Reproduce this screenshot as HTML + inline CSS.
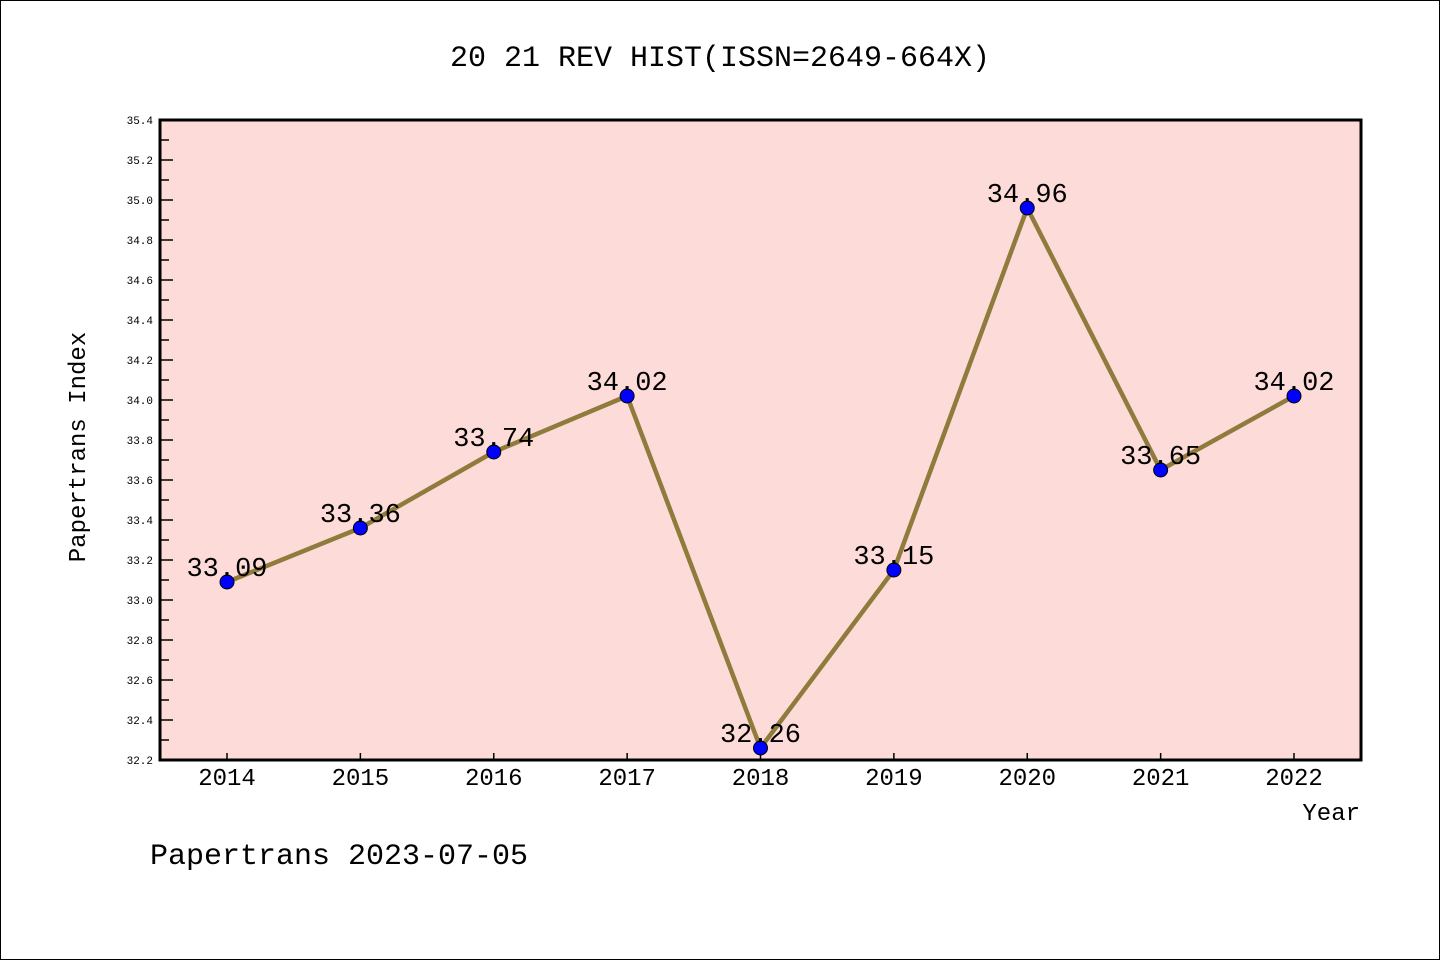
<!DOCTYPE html>
<html><head><meta charset="utf-8"><style>
body{margin:0;background:#fff}
svg{display:block}
text{font-family:"Liberation Mono","DejaVu Sans Mono",monospace}
</style></head><body>
<svg id="chart" width="1440" height="960" xmlns="http://www.w3.org/2000/svg">
<rect x="0.5" y="0.5" width="1439" height="959" fill="#fff" stroke="#000" stroke-width="1"/>
<text x="720" y="66" text-anchor="middle" font-size="30">20 21 REV HIST(ISSN=2649-664X)</text>
<rect x="160" y="120" width="1201" height="640" fill="#fddbd8"/>
<g id="yticks"></g><g id="xticks"></g>
<g id="series"></g>
<rect x="160" y="120" width="1201" height="640" fill="none" stroke="#000" stroke-width="3"/>
<text transform="translate(85,447) rotate(-90)" text-anchor="middle" font-size="24">Papertrans Index</text>
<text x="1360" y="820" text-anchor="end" font-size="24">Year</text>
<text x="150" y="864" font-size="30">Papertrans 2023-07-05</text>
</svg>
<script>
const years=[2014,2015,2016,2017,2018,2019,2020,2021,2022];
const values=[33.09,33.36,33.74,34.02,32.26,33.15,34.96,33.65,34.02];
const yTicks=[32.2,32.4,32.6,32.8,33.0,33.2,33.4,33.6,33.8,34.0,34.2,34.4,34.6,34.8,35.0,35.2,35.4];
const NS="http://www.w3.org/2000/svg";
const yMin=32.2,yMax=35.4,yTop=120,yBot=760;
const yS=v=>yBot-(v-yMin)/(yMax-yMin)*(yBot-yTop);
const xS=i=>227+i*(1294-227)/(years.length-1);
function mk(t,a,p){const e=document.createElementNS(NS,t);for(const k in a)e.setAttribute(k,a[k]);p.appendChild(e);return e;}
const yt=document.getElementById('yticks');
yTicks.forEach((v,i)=>{
 const l=mk('line',{x1:160,x2:173,y1:yS(v),y2:yS(v),stroke:'#000','stroke-width':1.5},yt);
 
 
 if(i<yTicks.length-1){const m=mk('line',{x1:160,x2:169,y1:yS(v+0.1),y2:yS(v+0.1),stroke:'#000','stroke-width':1.5},yt);
 
 }
 const t=mk('text',{x:153,y:yS(v)+4,'text-anchor':'end','font-size':11},yt);
 
 
 t.textContent=v.toFixed(1);
});
const xt=document.getElementById('xticks');
years.forEach((yr,i)=>{
 const l=mk('line',{x1:xS(i),x2:xS(i),y1:760,y2:753,stroke:'#000','stroke-width':1.5},xt);
 
 
 const t=mk('text',{x:xS(i),y:785,'text-anchor':'middle','font-size':24},xt);
 
 
 t.textContent=yr;
});
const s=document.getElementById('series');
const pl=mk('polyline',{points:values.map((v,i)=>xS(i)+','+yS(v)).join(' '),fill:'none',stroke:'#8f7b3b','stroke-width':4.5,'stroke-linejoin':'round'},s);


values.forEach((v,i)=>{
 const c=mk('circle',{cx:xS(i),cy:yS(v),r:7,fill:'#0000ff',stroke:'#000','stroke-width':1},s);
 
 
 const t=mk('text',{x:xS(i),y:yS(v)-6,'text-anchor':'middle','font-size':27},s);
 
 
 t.textContent=v.toFixed(2);
});
</script>
</body></html>
